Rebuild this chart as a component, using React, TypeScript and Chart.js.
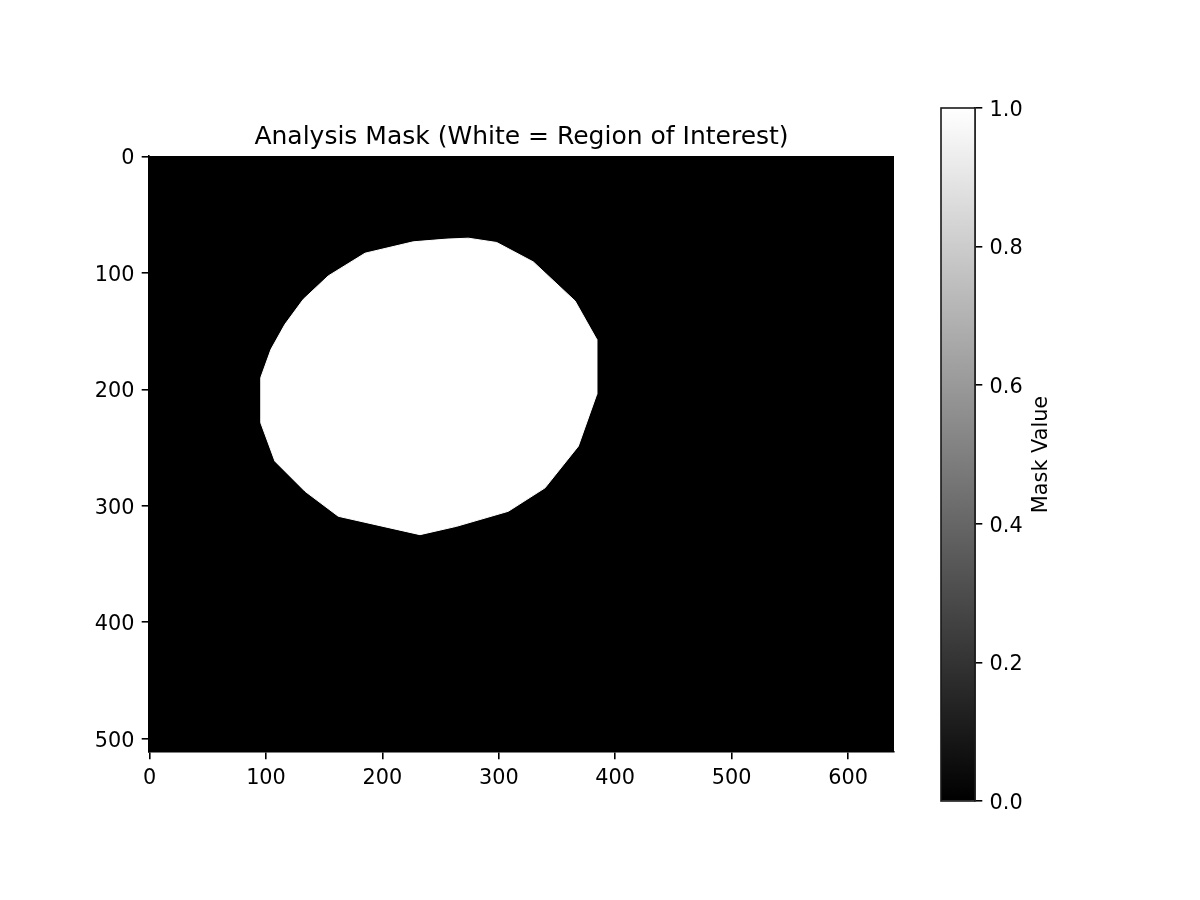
import { useEffect, useRef } from 'react';
import { Chart, registerables } from 'chart.js';

Chart.register(...registerables);

// mask outline in image pixel coordinates (column, row) of a 640x512 frame
const MASK_X = [95.5, 104.3, 116.3, 132.1, 153.5, 185.1, 226.6, 255.3, 273.8, 298.2, 329.7, 365.5, 384.1, 384.1, 368.3, 339.7, 308.2, 263.8, 232.3, 206.5, 162.1, 133.5, 107.7, 95.5, 95.5];
const MASK_Y = [189.9, 165.6, 144.1, 122.6, 102.5, 83.0, 73.2, 70.9, 70.1, 73.8, 90.5, 124.0, 157.0, 204.3, 248.8, 284.6, 304.7, 317.6, 324.8, 319.0, 309.0, 287.5, 261.7, 228.7, 189.9];

const IMG_W = 640;
const IMG_H = 512;

const X_TICKS = [0, 100, 200, 300, 400, 500, 600];
const Y_TICKS = [0, 100, 200, 300, 400, 500];
const CB_TICKS = [0, 0.2, 0.4, 0.6, 0.8, 1.0];
const CB_RANGE = [0, 1];

const TITLE = 'Analysis Mask (White = Region of Interest)';
const CB_LABEL = 'Mask Value';

const FONT = 'DejaVu Sans';
const TICK_FONT = { family: FONT, size: 20.8 };
const TICK_LEN = 7.3;
const LINE_W = 1.6;

const W = 1200;
const H = 900;

function axisStyle(vertical: boolean) {
  return {
    grid: { drawOnChartArea: false, drawTicks: true, tickLength: TICK_LEN, color: '#000', lineWidth: LINE_W },
    border: { display: true, color: '#000', width: LINE_W },
    ticks: {
      color: '#000',
      font: TICK_FONT,
      padding: TICK_LEN,
      autoSkip: false,
      maxRotation: 0,
      labelOffset: vertical ? 2.5 : 0,
    },
  };
}

const blackArea = {
  id: 'blackArea',
  beforeDraw(chart: Chart) {
    const { ctx, chartArea: a } = chart;
    ctx.save();
    ctx.fillStyle = '#000';
    ctx.fillRect(a.left, a.top, a.right - a.left, a.bottom - a.top);
    ctx.restore();
  },
};

const colorbarFrame = {
  id: 'colorbarFrame',
  afterDraw(chart: Chart) {
    const { ctx, chartArea: a } = chart;
    ctx.save();
    ctx.strokeStyle = '#1a1a1a';
    ctx.lineWidth = LINE_W;
    ctx.strokeRect(a.left, a.top, a.right - a.left, a.bottom - a.top);
    // colorbar label, reading bottom to top
    ctx.translate(1046.5, (a.top + a.bottom) / 2);
    ctx.rotate(-Math.PI / 2);
    ctx.fillStyle = '#000';
    ctx.font = `20.8px "${FONT}"`;
    ctx.textAlign = 'center';
    ctx.textBaseline = 'alphabetic';
    ctx.fillText(CB_LABEL, 0, 0);
    ctx.restore();
  },
};

export default function App() {
  const mainRef = useRef<HTMLCanvasElement>(null);
  const cbRef = useRef<HTMLCanvasElement>(null);

  useEffect(() => {
    if (!mainRef.current || !cbRef.current) return;
    Chart.defaults.font.family = FONT;

    const xs = axisStyle(false);
    const ys = axisStyle(true);

    const main = new Chart(mainRef.current, {
      type: 'scatter',
      data: {
        datasets: [
          {
            data: MASK_X.map((x, i) => ({ x, y: MASK_Y[i] })),
            showLine: true,
            fill: 'shape',
            backgroundColor: '#fff',
            borderColor: '#fff',
            borderWidth: 1,
            pointRadius: 0,
            tension: 0,
          },
        ],
      },
      options: {
        responsive: false,
        animation: false,
        layout: { padding: { left: 79, right: 306, top: 122.5, bottom: 98 } },
        scales: {
          x: {
            type: 'linear',
            min: -0.5,
            max: IMG_W - 0.5,
            afterBuildTicks: (axis: any) => {
              axis.ticks = X_TICKS.map((value) => ({ value }));
            },
            afterFit: (axis: any) => {
              axis.height = 50;
            },
            ...xs,
          },
          y: {
            type: 'linear',
            reverse: true,
            min: -0.5,
            max: IMG_H - 0.5,
            afterBuildTicks: (axis: any) => {
              axis.ticks = Y_TICKS.map((value) => ({ value }));
            },
            afterFit: (axis: any) => {
              axis.width = 70;
            },
            ...ys,
          },
        },
        plugins: {
          legend: { display: false },
          tooltip: { enabled: false },
          title: {
            display: true,
            text: TITLE,
            fullSize: false,
            color: '#000',
            font: { family: FONT, size: 25, weight: 'normal' },
            padding: { top: 0, bottom: 3.5 },
          },
        },
      },
      plugins: [blackArea],
    });

    const cs = axisStyle(true);
    const colorbar = new Chart(cbRef.current, {
      type: 'bar',
      data: {
        labels: [CB_LABEL],
        datasets: [
          {
            data: [CB_RANGE as any],
            backgroundColor: (c: any) => {
              const { ctx, chartArea } = c.chart;
              if (!chartArea) return '#888';
              const g = ctx.createLinearGradient(0, chartArea.bottom, 0, chartArea.top);
              g.addColorStop(0, '#000');
              g.addColorStop(1, '#fff');
              return g;
            },
            borderWidth: 0,
            barPercentage: 1,
            categoryPercentage: 1,
          },
        ],
      },
      options: {
        responsive: false,
        animation: false,
        layout: { padding: { left: 941, right: W - 975 - 60, top: 108, bottom: 99 } },
        scales: {
          x: { display: false },
          y: {
            position: 'right',
            min: 0,
            max: 1,
            afterBuildTicks: (axis: any) => {
              axis.ticks = CB_TICKS.map((value) => ({ value }));
            },
            afterFit: (axis: any) => {
              axis.width = 60;
            },
            ...cs,
            ticks: { ...cs.ticks, callback: (v: any) => Number(v).toFixed(1) },
          },
        },
        plugins: {
          legend: { display: false },
          tooltip: { enabled: false },
        },
      },
      plugins: [colorbarFrame],
    });

    return () => {
      main.destroy();
      colorbar.destroy();
    };
  }, []);

  return (
    <div style={{ position: 'absolute', left: 0, top: 0, width: W, height: H, background: '#fff' }}>
      <canvas ref={mainRef} width={W} height={H} style={{ position: 'absolute', left: 0, top: 0, width: W, height: H }} />
      <canvas ref={cbRef} width={W} height={H} style={{ position: 'absolute', left: 0, top: 0, width: W, height: H }} />
    </div>
  );
}
